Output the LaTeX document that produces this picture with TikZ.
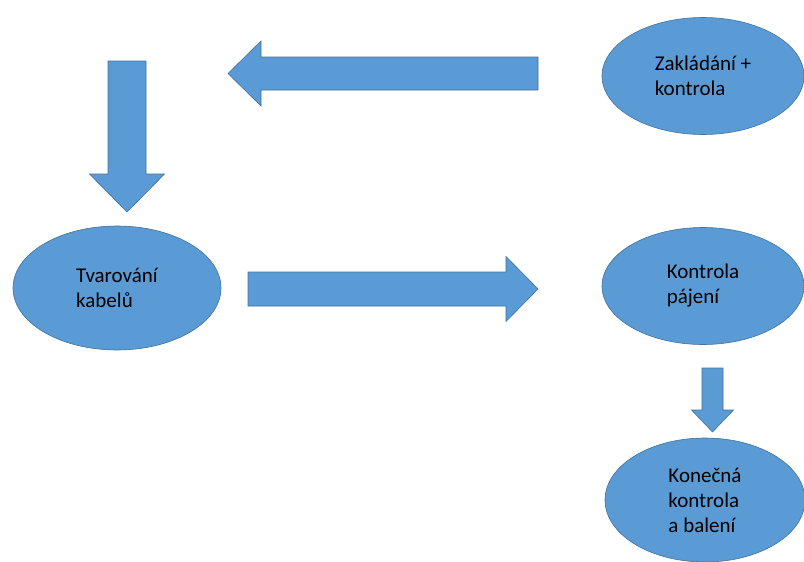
\documentclass[tikz,border=0pt]{standalone}
\usepackage{fontspec}
\setmainfont{Carlito}
\usepackage{tikz}
\usetikzlibrary{calc}
\usetikzlibrary{shapes.geometric}
\usetikzlibrary{positioning}

\definecolor{officeblue}{HTML}{5B9BD5}
\definecolor{officeedge}{HTML}{41719C}

% block arrow: from, to, half shaft width, half head width, head length
\newcommand{\blockarrow}[5]{%
    \coordinate (hb) at ($(#2)!#5!(#1)$);
    \filldraw [fill=officeblue, draw=officeedge, line width=0.6pt, line join=miter]
        ($(#1)!#3!90:(#2)$) -- ($(hb)!#3!90:(#2)$) -- ($(hb)!#4!90:(#2)$) -- (#2)
        -- ($(hb)!#4!-90:(#2)$) -- ($(hb)!#3!-90:(#2)$) -- ($(#1)!#3!-90:(#2)$) -- cycle ;
}

\begin{document}
\begin{tikzpicture}[
    x=1pt, y=-1pt,
    stepnode/.style={ellipse, fill=officeblue, draw=officeedge, line width=0.6pt,
        inner sep=0pt, align=left, font=\fontsize{21}{25}\selectfont}
]
    \useasboundingbox (0, 0) rectangle (804, 562) ;
    \clip (0, 0) rectangle (804, 562) ;

    % Steps
    % - [Ellipses]
    \node at (703, 76) [stepnode, minimum width=202pt, minimum height=117pt](zaklad){Zakládání +\\kontrola};
    \node at (117, 288) [stepnode, minimum width=208pt, minimum height=124pt](tvar){Tvarování\\kabelů};
    \node at (703, 286) [stepnode, minimum width=202pt, minimum height=117pt](pajeni){Kontrola\\pájení};
    \node at (705, 500) [stepnode, minimum width=200pt, minimum height=124pt](baleni){Konečná\\kontrola\\a balení};

    % - [Block arrows]
    % -- Ends of the arrows
    \coordinate (topFrom) at (538, 73.5) ;
    \coordinate (topTo) at (228, 73.5) ;
    \coordinate (leftFrom) at (127, 61) ;
    \coordinate (leftTo) at (127, 212) ;
    \coordinate (midFrom) at (248, 289) ;
    \coordinate (midTo) at (538, 289) ;
    \coordinate (lowFrom) at (712.5, 368) ;
    \coordinate (lowTo) at (712.5, 432) ;
    % -- The arrows
    \blockarrow{topFrom}{topTo}{16.5pt}{32.5pt}{33pt}
    \blockarrow{leftFrom}{leftTo}{19pt}{37.5pt}{38pt}
    \blockarrow{midFrom}{midTo}{17pt}{32.5pt}{32pt}
    \blockarrow{lowFrom}{lowTo}{10.5pt}{21pt}{22pt}

\end{tikzpicture}
\end{document}
